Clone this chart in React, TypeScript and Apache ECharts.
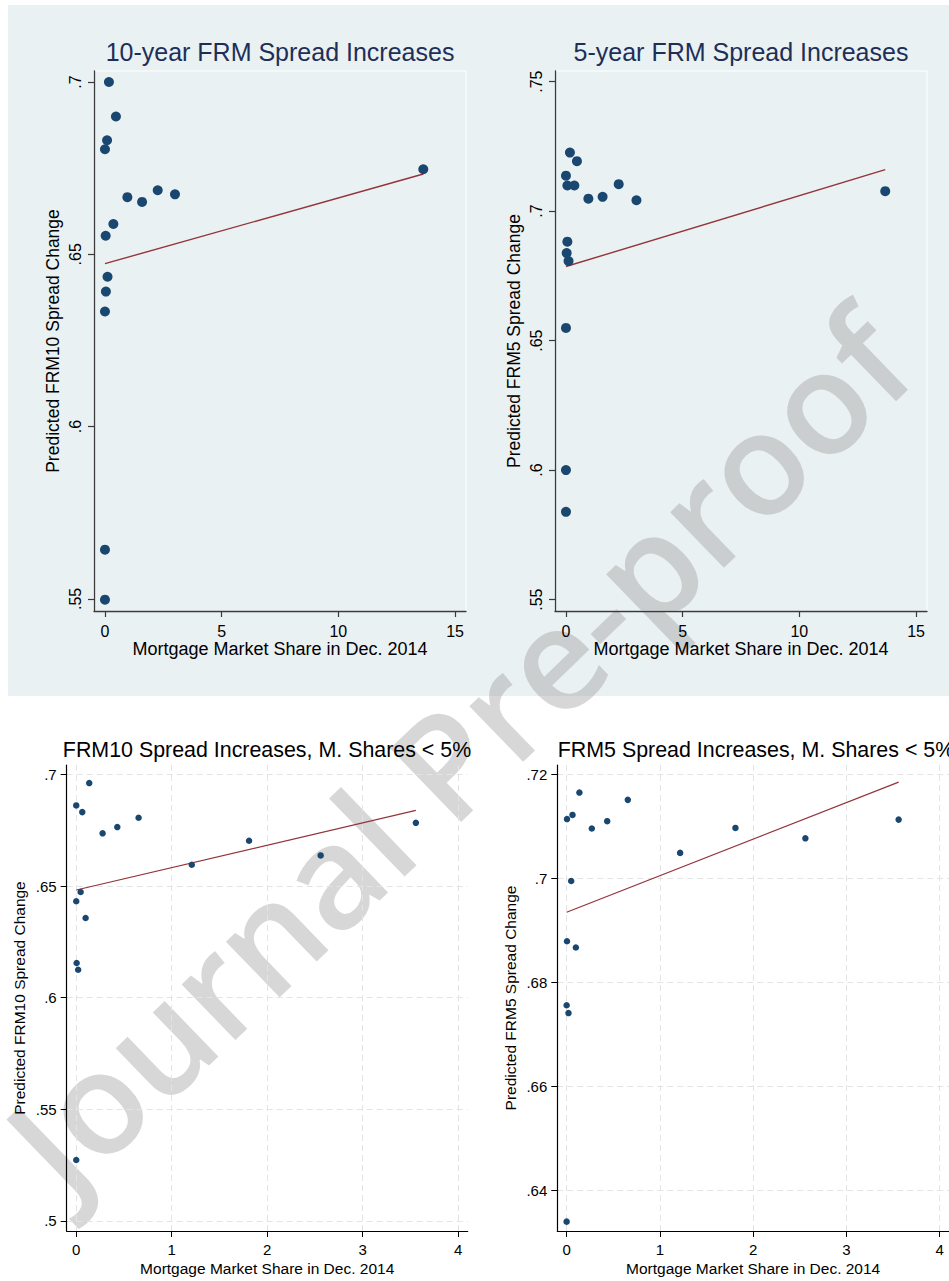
import React, { useEffect, useRef } from "react";
import * as echarts from "echarts";

// ---- Data ----
// Top-left: 10-year FRM spread increases, all banks
const allShareX10 = [0.17, 0.47, 0.09, 0.0, 13.64, 0.96, 1.59, 2.26, 3.0, 0.36, 0.03, 0.11, 0.04, 0.0, 0.0, 0.0];
const allSpreadY10 = [0.700, 0.690, 0.6831, 0.6805, 0.6747, 0.6666, 0.6652, 0.6686, 0.6674, 0.6588, 0.6554, 0.6435, 0.6392, 0.6334, 0.5643, 0.5498];
const allFitX10 = [0.0, 13.64];
const allFitY10 = [0.6473, 0.6733];

// Top-right: 5-year FRM spread increases, all banks
const allShareX5 = [0.17, 0.47, 0.0, 0.06, 0.36, 0.96, 1.57, 2.26, 3.02, 13.68, 0.06, 0.03, 0.11, 0.0, 0.0, 0.0];
const allSpreadY5 = [0.7226, 0.7193, 0.7137, 0.7099, 0.7099, 0.7048, 0.7055, 0.7104, 0.7042, 0.7077, 0.6882, 0.6838, 0.6807, 0.6549, 0.6000, 0.5839];
const allFitX5 = [0.0, 13.68];
const allFitY5 = [0.6786, 0.7160];

// Bottom-left: FRM10, market shares < 5%
const smallShareX10 = [0.136, 0.0, 0.063, 0.276, 0.43, 0.653, 1.21, 1.81, 2.56, 3.557, 0.046, 0.0, 0.098, 0.004, 0.02, 0.0];
const smallSpreadY10 = [0.6961, 0.6861, 0.6831, 0.6736, 0.6764, 0.6806, 0.6595, 0.6703, 0.6637, 0.6783, 0.6473, 0.6432, 0.6357, 0.6155, 0.6125, 0.5273];
const smallFitX10 = [0.0, 3.557];
const smallFitY10 = [0.6482, 0.6839];

// Bottom-right: FRM5, market shares < 5%
const smallShareX5 = [0.137, 0.656, 0.004, 0.063, 0.27, 0.435, 1.81, 1.217, 2.56, 3.56, 0.049, 0.004, 0.099, 0.0, 0.02, 0.0];
const smallSpreadY5 = [0.7165, 0.7151, 0.7114, 0.7122, 0.7096, 0.7110, 0.7097, 0.7049, 0.7077, 0.7113, 0.6995, 0.6879, 0.6867, 0.6756, 0.6741, 0.634];
const smallFitX5 = [0.0, 3.56];
const smallFitY5 = [0.6935, 0.7185];

// Tick values
const topXTicks = [0, 5, 10, 15];
const topLeftYTicks = [0.55, 0.6, 0.65, 0.7];
const topRightYTicks = [0.55, 0.6, 0.65, 0.7, 0.75];
const bottomXTicks = [0, 1, 2, 3, 4];
const bottomLeftYTicks = [0.5, 0.55, 0.6, 0.65, 0.7];
const bottomRightYTicks = [0.64, 0.66, 0.68, 0.7, 0.72];

// Titles / labels
const titles = [
  "10-year FRM Spread Increases",
  "5-year FRM Spread Increases",
  "FRM10 Spread Increases, M. Shares < 5%",
  "FRM5 Spread Increases, M. Shares < 5%",
];
const xName = "Mortgage Market Share in Dec. 2014";
const yNames = [
  "Predicted FRM10 Spread Change",
  "Predicted FRM5 Spread Change",
  "Predicted FRM10 Spread Change",
  "Predicted FRM5 Spread Change",
];
const watermark = "Journal Pre-proof";

const FONT = "'Liberation Sans', Arial, Helvetica, sans-serif";
const NAVY = "#1a476f";
const MAROON = "#93343b";

const zip = (xs: number[], ys: number[]) => xs.map((x, i) => [x, ys[i]]);
const fmtY = (v: number) => String(+v.toFixed(3)).replace(/^0\./, ".");

function App() {
  const ref = useRef<HTMLDivElement>(null);

  useEffect(() => {
    if (!ref.current) return;
    const chart = echarts.init(ref.current, undefined, { renderer: "svg" });

    const topAxisColor = "#3a3a3a";

    const xAxisTop = (gridIndex: number) => ({
      type: "value",
      gridIndex,
      min: -0.47,
      max: 15.47,
      name: xName,
      nameLocation: "middle",
      nameGap: 28,
      nameTextStyle: { fontSize: 18, color: "#000", fontFamily: FONT },
      axisLine: { show: true, onZero: false, lineStyle: { color: topAxisColor, width: 1.3 } },
      axisTick: { show: true, length: 6, customValues: topXTicks, lineStyle: { color: topAxisColor, width: 1.2 } },
      axisLabel: { customValues: topXTicks, fontSize: 16, color: "#000", margin: 12, fontFamily: FONT },
      splitLine: { show: false },
    });

    const yAxisTop = (gridIndex: number, min: number, max: number, ticks: number[], name: string) => ({
      type: "value",
      gridIndex,
      min,
      max,
      name,
      nameLocation: "middle",
      nameGap: 32,
      nameTextStyle: { fontSize: 17.5, color: "#000", fontFamily: FONT },
      axisLine: { show: true, onZero: false, lineStyle: { color: topAxisColor, width: 1.3 } },
      axisTick: { show: true, length: 6, customValues: ticks, lineStyle: { color: topAxisColor, width: 1.2 } },
      axisLabel: {
        customValues: ticks,
        rotate: 90,
        fontSize: 16,
        color: "#000",
        margin: 11,
        fontFamily: FONT,
        formatter: (v: number) => fmtY(v),
      },
      splitLine: { show: false },
    });

    const gridLine = { show: true, lineStyle: { color: "#e4e4e4", width: 1, type: [6, 4] } };

    const xAxisBottom = (gridIndex: number) => ({
      type: "value",
      gridIndex,
      min: -0.1,
      max: 4.1,
      name: xName,
      nameLocation: "middle",
      nameGap: 29,
      nameTextStyle: { fontSize: 15.5, color: "#000", fontFamily: FONT },
      axisLine: { show: true, onZero: false, lineStyle: { color: "#000", width: 1.2 } },
      axisTick: { show: true, length: 6, customValues: bottomXTicks, lineStyle: { color: "#000", width: 1 } },
      axisLabel: { customValues: bottomXTicks, fontSize: 15, color: "#000", margin: 11, fontFamily: FONT },
      splitLine: gridLine,
    });

    const yAxisBottom = (gridIndex: number, min: number, max: number, ticks: number[], name: string) => ({
      type: "value",
      gridIndex,
      min,
      max,
      name,
      nameLocation: "middle",
      nameGap: 39,
      nameTextStyle: { fontSize: 15.5, color: "#000", fontFamily: FONT },
      axisLine: { show: true, onZero: false, lineStyle: { color: "#000", width: 1.2 } },
      axisTick: { show: true, length: 6, customValues: ticks, lineStyle: { color: "#000", width: 1 } },
      axisLabel: {
        customValues: ticks,
        fontSize: 15,
        color: "#000",
        margin: 10,
        fontFamily: FONT,
        formatter: (v: number) => fmtY(v),
      },
      splitLine: gridLine,
    });

    const scatter = (i: number, xs: number[], ys: number[], size: number) => ({
      type: "scatter",
      xAxisIndex: i,
      yAxisIndex: i,
      data: zip(xs, ys),
      symbolSize: size,
      itemStyle: { color: NAVY, opacity: 1 },
      z: 3,
      silent: true,
    });

    const fit = (i: number, xs: number[], ys: number[], w: number) => ({
      type: "line",
      xAxisIndex: i,
      yAxisIndex: i,
      data: zip(xs, ys),
      showSymbol: false,
      symbol: "none",
      lineStyle: { color: MAROON, width: w },
      z: 2,
      silent: true,
    });

    const gridTop = { show: true, borderColor: "#ffffff", borderWidth: 1, backgroundColor: "transparent" };

    const option: any = {
      animation: false,
      backgroundColor: "#ffffff",
      textStyle: { fontFamily: FONT },
      title: [
        { text: titles[0], left: 280, top: 39, textAlign: "center", padding: 0, textStyle: { fontSize: 25, fontWeight: "normal", color: "#1d2f57", fontFamily: FONT } },
        { text: titles[1], left: 741, top: 39, textAlign: "center", padding: 0, textStyle: { fontSize: 25, fontWeight: "normal", color: "#1d2f57", fontFamily: FONT } },
        { text: titles[2], left: 267, top: 739, textAlign: "center", padding: 0, textStyle: { fontSize: 21.4, fontWeight: "normal", color: "#000", fontFamily: FONT } },
        { text: titles[3], left: 756, top: 739, textAlign: "center", padding: 0, textStyle: { fontSize: 21.4, fontWeight: "normal", color: "#000", fontFamily: FONT } },
      ],
      grid: [
        { left: 94, top: 71, width: 372, height: 540, ...gridTop },
        { left: 555, top: 71, width: 372, height: 540, ...gridTop },
        { left: 66.7, top: 765, width: 401, height: 466, show: false },
        { left: 557.3, top: 765, width: 399.4, height: 466, show: false },
      ],
      xAxis: [xAxisTop(0), xAxisTop(1), xAxisBottom(2), xAxisBottom(3)],
      yAxis: [
        yAxisTop(0, 0.5465, 0.7032, topLeftYTicks, yNames[0]),
        yAxisTop(1, 0.5456, 0.7541, topRightYTicks, yNames[1]),
        yAxisBottom(2, 0.4955, 0.7042, bottomLeftYTicks, yNames[2]),
        yAxisBottom(3, 0.6322, 0.7218, bottomRightYTicks, yNames[3]),
      ],
      series: [
        fit(0, allFitX10, allFitY10, 1.4),
        scatter(0, allShareX10, allSpreadY10, 10),
        fit(1, allFitX5, allFitY5, 1.4),
        scatter(1, allShareX5, allSpreadY5, 10),
        fit(2, smallFitX10, smallFitY10, 1.2),
        scatter(2, smallShareX10, smallSpreadY10, 6.5),
        fit(3, smallFitX5, smallFitY5, 1.2),
        scatter(3, smallShareX5, smallSpreadY5, 6.5),
      ],
      graphic: {
        elements: [
          {
            type: "rect",
            z: -20,
            silent: true,
            shape: { x: 8, y: 5, width: 941, height: 691 },
            style: { fill: "#eaf1f3" },
          },
          {
            type: "text",
            z: -10,
            silent: true,
            x: 884,
            y: 336,
            rotation: (44 * Math.PI) / 180,
            style: {
              text: watermark,
              fontSize: 143,
              fontWeight: 600,
              fontFamily: "'Open Sans', sans-serif",
              fill: "rgba(150,150,150,0.38)",
              align: "right",
              verticalAlign: "middle",
            },
          },
        ],
      },
    };

    chart.setOption(option);
    return () => chart.dispose();
  }, []);

  return (
    <div
      ref={ref}
      style={{ position: "absolute", left: 0, top: 0, width: 949, height: 1281, overflow: "hidden" }}
    />
  );
}

export default App;
